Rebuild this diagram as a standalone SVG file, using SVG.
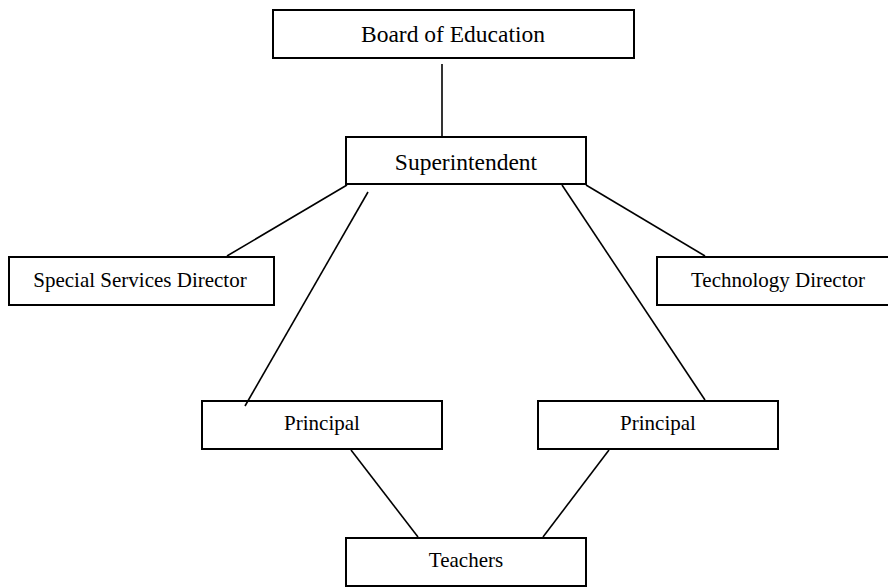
<svg xmlns="http://www.w3.org/2000/svg" width="888" height="587" viewBox="0 0 888 587">
<style>
rect{fill:#fff;stroke:#000;stroke-width:2}
text{font-family:"Liberation Serif","Times New Roman",serif;fill:#000;text-anchor:middle;font-size:21px}
.big{font-size:23.5px}
#connectors line{stroke:#000;stroke-width:1.6}
</style>
<rect x="0" y="0" width="888" height="587" style="stroke:none"/>
<g id="board"><rect x="273" y="10" width="361" height="48"/><text class="big" x="453" y="42">Board of Education</text></g>
<g id="superintendent"><rect x="346" y="137" width="240" height="47"/><text class="big" x="466" y="170">Superintendent</text></g>
<g id="special"><rect x="9" y="257" width="265" height="48"/><text x="140" y="287">Special Services Director</text></g>
<g id="technology"><rect x="657" y="257" width="240" height="48"/><text x="778" y="287">Technology Director</text></g>
<g id="principal1"><rect x="202" y="401" width="240" height="48"/><text x="322" y="430">Principal</text></g>
<g id="principal2"><rect x="538" y="401" width="240" height="48"/><text x="658" y="430">Principal</text></g>
<g id="teachers"><rect x="346" y="538" width="240" height="48"/><text x="466" y="567">Teachers</text></g>
<g id="connectors">
<line x1="442" y1="64" x2="442" y2="137"/>
<line x1="347" y1="185" x2="227" y2="256"/>
<line x1="368" y1="192" x2="245" y2="406"/>
<line x1="586" y1="185" x2="705" y2="256"/>
<line x1="562" y1="185" x2="705" y2="400"/>
<line x1="351" y1="450" x2="418" y2="537"/>
<line x1="609" y1="450" x2="543" y2="537"/>
</g>
</svg>
